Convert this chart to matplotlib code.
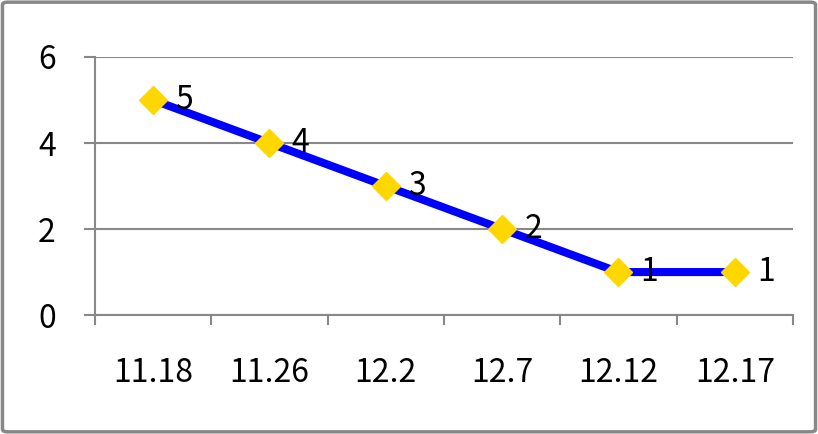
import matplotlib
matplotlib.use('agg')

import matplotlib.pyplot as plt
from matplotlib.patches import FancyBboxPatch

dates = ['11.18', '11.26', '12.2', '12.7', '12.12', '12.17']
values = [5, 4, 3, 2, 1, 1]

plt.rcParams['font.family'] = ['Noto Sans CJK KR', 'DejaVu Sans']
grey = '#888888'

fig = plt.figure(figsize=(8.18, 4.34), dpi=100)
ax = fig.add_axes([0.116, 0.274, 0.8534, 0.5947])

x = list(range(len(dates)))
ax.plot(x, values, color='#0000FF', linewidth=5.8, marker='D', markersize=14,
        markerfacecolor='#FFD700', markeredgecolor='#FFD700', zorder=3)

for xi, v in zip(x, values):
  ax.annotate(str(v), (xi, v), xytext=(16, 0), textcoords='offset points',
              ha='left', va='center', fontsize=23, zorder=4)

ax.set_xlim(-0.5, len(dates) - 0.5)
ax.set_ylim(0, 6)
ax.set_yticks([0, 2, 4, 6])
ax.yaxis.grid(True, color=grey, linewidth=1.5)
ax.set_axisbelow(True)

# category boundary ticks, labels centred between them
ax.set_xticks([i - 0.5 for i in range(len(dates) + 1)])
ax.set_xticklabels([])
ax.set_xticks(x, minor=True)
ax.set_xticklabels(dates, minor=True, fontsize=23)
ax.tick_params(axis='x', which='major', direction='out', length=7, width=1.5, color=grey)
ax.tick_params(axis='x', which='minor', length=0, pad=30)
ax.tick_params(axis='y', direction='out', length=8, width=1.5, color=grey, labelsize=23, pad=20)

for side in ['top', 'right']:
  ax.spines[side].set_visible(False)
for side in ['left', 'bottom']:
  ax.spines[side].set_color(grey)
  ax.spines[side].set_linewidth(1.5)

border = FancyBboxPatch((0.003, 0.005), 0.994, 0.99, boxstyle='round,pad=0,rounding_size=0.006',
                        transform=fig.transFigure, fill=False, edgecolor=grey, linewidth=2.5)
fig.patches.append(border)

fig.savefig('out.png', dpi=100)
